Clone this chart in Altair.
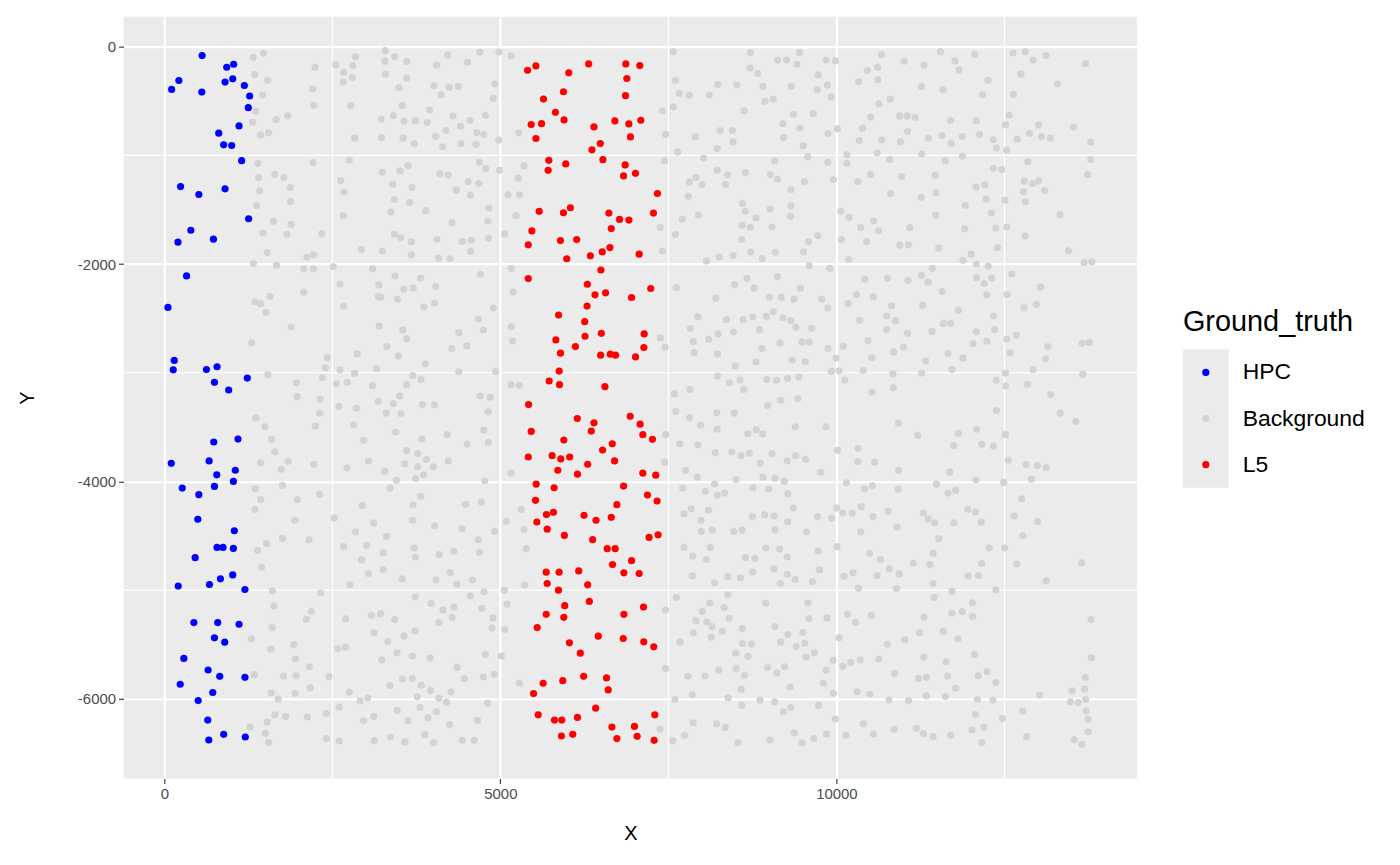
import altair as alt
import pandas as pd

# ---------------- data ----------------
hpc_points = [
    (563,-82),(929,-189),(1032,-162),(217,-311),(109,-393),(558,-418),(904,-326),(1018,-296),
    (1191,-357),(1270,-454),(1250,-561),(1112,-729),(810,-796),(884,-903),(1003,-909),(1151,-1049),
    (242,-1287),(514,-1360),(904,-1308),(1255,-1583),(395,-1689),(731,-1771),(203,-1799),
    (331,-2109),(54,-2399),(148,-2887),(133,-2973),(627,-2970),(785,-2945),(746,-3088),(958,-3159),
    (1235,-3049),(736,-3637),(1097,-3610),(104,-3833),(667,-3811),(781,-3939),(1057,-3897),(1028,-4000),
    (746,-4046),(267,-4061),(514,-4122),(499,-4348),
    (1042,-4454),(785,-4607),(874,-4607),(1028,-4616),(459,-4701),(1018,-4860),(835,-4896),(672,-4948),
    (207,-4963),(1200,-4994),(440,-5299),(795,-5299),(1112,-5314),(746,-5439),(899,-5479),(291,-5628),
    (652,-5735),(825,-5793),(1200,-5802),(237,-5866),(721,-5942),(504,-6016),(647,-6196),(884,-6327),
    (662,-6379),(1205,-6351),
]

l5_points = [
    (5405,-217),(5529,-177),(6018,-241),(6314,-159),(6867,-159),(6882,-293),(6862,-451),(5642,-482),
    (5939,-415),(5820,-604),(5948,-674),(5459,-717),(5613,-708),(5529,-845),(6393,-738),(6704,-683),
    (6912,-711),(6936,-830),(6487,-891),(6363,-949),(6526,-1040),(5721,-1046),(5711,-1138),(5973,-1079),
    (6857,-1088),(6833,-1189),(5578,-1515),(5939,-1528),(6042,-1482),(6615,-1531),(6773,-1589),(6912,-1595),
    (6650,-1674),(5469,-1695),(5415,-1823),(5894,-1784),(6136,-1775),(6630,-1848),(6516,-1888),(6339,-1924),
    (5988,-1951),(6497,-2055),
    (7075,-174),(7090,-677),(7011,-1165),(7337,-1351),(7278,-1531),(7065,-1909),
    (5415,-2134),(6295,-2186),(6408,-2283),(6566,-2265),(6290,-2387),(5866,-2469),(6255,-2530),(6260,-2664),
    (6502,-2637),(5826,-2698),(6117,-2759),(5895,-2820),(6492,-2838),(6635,-2829),(6714,-2838),(5875,-2985),
    (5726,-3076),(5880,-3110),(6556,-3128),(5420,-3293),(6145,-3421),(6393,-3461),(6353,-3537),(6932,-3400),
    (5459,-3540),(5944,-3619),(6665,-3653),(6521,-3711),(5415,-3775),(5770,-3763),(5899,-3793),(6032,-3775),
    (6699,-3811),(6299,-3842),(5855,-3897),(6147,-3933),(5533,-4025),(5800,-4058),(6833,-4043),(5523,-4174),
    (6734,-4214),(5686,-4305),(5790,-4284),(6245,-4312),(6423,-4357),(6650,-4330),(5543,-4373),
    (7238,-2225),(6952,-2308),(7140,-2643),(7135,-2768),(7011,-2854),(7080,-3473),(7120,-3570),(7263,-3613),
    (7120,-3924),(7312,-3942),(7189,-4125),(7332,-4180),
    (5697,-4439),(5953,-4497),(6373,-4536),(6590,-4619),(6709,-4619),(6669,-4765),(6838,-4841),(5682,-4835),
    (5874,-4835),(6166,-4823),(5697,-4939),(5865,-5000),(6299,-4951),(6324,-5104),(5958,-5143),(5682,-5223),
    (5944,-5250),(5548,-5345),(6838,-5223),(6457,-5424),(6828,-5445),(6028,-5485),(6190,-5580),(6239,-5793),
    (6580,-5808),(6605,-5918),(5929,-5833),(5637,-5857),(5494,-5952),(6418,-6086),(5563,-6147),(5805,-6196),
    (5914,-6196),(6147,-6171),(6660,-6260),(6734,-6366),(5909,-6342),(6077,-6327),
    (7213,-4515),(7347,-4491),(6952,-4729),(7065,-4847),(7130,-5156),(7134,-5476),(7283,-5522),(7298,-6147),
    (6995,-6254),(7035,-6345),(7288,-6382),
]

bg_points_top = [
    (1324,-98),(1477,-61),(2243,-189),(2549,-168),(2845,-92),(2806,-174),(2668,-235),(2796,-284),(2663,-326),
    (1344,-256),(1536,-311),(2208,-390),(1462,-445),(2223,-540),(2776,-543),(1359,-592),(1838,-634),(1665,-671),
    (1314,-695),(1551,-793),(1433,-814),(2831,-842),(1393,-1073),(2213,-1067),(2752,-1043),(1645,-1177),
    (1778,-1204),(1403,-1204),(2623,-1232),(2673,-1339),(1418,-1326),(1872,-1296),(1877,-1424),(1373,-1461),
    (2663,-1555),(1625,-1607),(1887,-1635),(1467,-1714),(1823,-1726),(2342,-1723),(2929,-1866),(1531,-1894),
    (2124,-1937),(2223,-1915),(1324,-1995),(1670,-2010),(2075,-2043),(2218,-2043),(2514,-2025),(3100,-2043),
    (3286,-37),(3281,-131),(3429,-92),(3607,-137),(3291,-253),(3607,-290),(3488,-378),(4052,-168),(4215,-76),
    (4511,-143),(4694,-52),(4980,-49),(5158,-85),(4012,-360),(4239,-375),(4373,-366),(4116,-442),(4921,-342),
    (4896,-476),(3538,-543),(3948,-583),(3227,-668),(3409,-634),(3567,-686),(3735,-683),(3913,-698),(4294,-637),
    (4550,-677),(4778,-631),(4407,-732),(4190,-772),(3232,-839),(3553,-842),(3721,-894),(4037,-827),(4141,-921),
    (4412,-891),(4639,-900),(4649,-790),(4753,-809),(4975,-860),(5277,-793),
    (3241,-1156),(3508,-1143),(3627,-1095),(4689,-1064),(4783,-1122),(4985,-1137),(5351,-1095),(4101,-1168),
    (4225,-1180),(3399,-1265),(3686,-1296),(4521,-1241),(4679,-1259),(4343,-1320),(4555,-1366),(5267,-1210),
    (3424,-1406),(3651,-1433),(5114,-1363),(5287,-1363),(3375,-1522),(3893,-1509),(4832,-1485),(4813,-1604),
    (4279,-1619),(5232,-1555),(3424,-1726),(3518,-1759),(3676,-1796),(4056,-1772),(4432,-1793),(4565,-1781),
    (4822,-1763),(5064,-1723),(3246,-1881),(3676,-1915),(4081,-1945),(4249,-1951),(4560,-1884),(5163,-2040),
    (7574,-46),(7604,-311),(7663,-430),(7811,-448),(7411,-592),(7574,-555),(7460,-805),(7638,-970),(7900,-830),
    (8108,-445),(8236,-348),(8518,-351),(8720,-55),(8715,-198),(8829,-247),(8908,-366),(8938,-503),(9061,-482),
    (9125,-125),(9259,-122),(9451,-55),(9412,-162),(9328,-366),(9728,-259),(9846,-125),(9985,-131),(9713,-396),
    (9866,-354),(9921,-464),(9654,-616),(9362,-622),(9204,-708),(9456,-750),(9219,-836),(9506,-912),(9575,-1013),
    (9876,-799),(10015,-756),(8626,-589),(8270,-772),(8453,-772),(8463,-875),(8226,-937),(8024,-1025),(7441,-1049),
    (10331,-323),(10459,-220),(10612,-189),(10617,-305),(10671,-76),(10632,-527),(10508,-647),(10390,-750),
    (10341,-863),(10676,-857),(10607,-976),(10158,-994),(10158,-1073),(9871,-1064),(9955,-1223),(10321,-1241),
    (10509,-1177),(9081,-1052),(9017,-1177),(9125,-1220),(8646,-1159),(8226,-1137),(8379,-1180),(8350,-1269),
    (7910,-1204),(7811,-1244),(8000,-1269),(7796,-1379),(9323,-1317),(9525,-1241),(9323,-1464),(9318,-1561),
    (9012,-1494),(8804,-1576),(8602,-1442),(8641,-1515),(8597,-1643),(8720,-1662),(9041,-1659),(7945,-1549),
    (7707,-1586),(7377,-1665),(7604,-1729),(7411,-1881),(8068,-1973),(8256,-1936),(8463,-1921),(8592,-1775),
    (8725,-1888),(8898,-1949),(9091,-1894),(9511,-1888),(9585,-1793),(9723,-1738),(9595,-2015),(9901,-2040),
    (10064,-1515),(10188,-1570),(10074,-1775),(10183,-1958),(10360,-1665),(10449,-1793),(10553,-1604),(10627,-1696),
    (11008,-134),(11305,-171),(11547,-46),(11764,-131),(11823,-214),(12060,-70),(12628,-58),(12811,-46),
    (12925,-125),(13118,-82),(13705,-156),(12747,-253),(13290,-342),(12633,-439),(12258,-308),(12174,-442),
    (11265,-366),(11586,-396),(10801,-482),(10939,-637),(11053,-637),(11171,-650),(11700,-677),(12080,-683),
    (12569,-631),(12515,-720),(13009,-720),(13528,-741),(11058,-781),(10954,-875),(11369,-842),(11572,-818),
    (11710,-891),(11873,-827),(12130,-809),(12332,-854),(12381,-933),(12535,-952),(12688,-851),(12871,-799),
    (13052,-827),(13182,-842),(13784,-878),(11270,-988),(10791,-1037),(11873,-1009),(11621,-1049),(12846,-1058),
    (13784,-1037),(13740,-1177),(10969,-1195),(11468,-1183),(12337,-1119),(12460,-1131),(12796,-1235),
    (12921,-1259),(13009,-1235),(13098,-1323),(12787,-1335),(12812,-1427),(12510,-1412),(12228,-1403),
    (12080,-1293),(12209,-1272),(11917,-1461),(10805,-1351),(11260,-1387),(11482,-1345),(11477,-1549),
    (12307,-1528),(13325,-1546),(11092,-1665),(11907,-1677),(12372,-1671),(12535,-1659),(12806,-1741),
    (10944,-1826),(11073,-1823),(11522,-1854),(12396,-1851),(13453,-1878),(12006,-1909),(11883,-1966),
    (12080,-2000),(12258,-2018),(11428,-2040),(13686,-1985),(13799,-1982),
]

bg_points_mid = [
    (2613,-2186),(2075,-2262),(1576,-2298),(1349,-2347),(1433,-2365),(1512,-2445),(2668,-2387),(1887,-2579),
    (1299,-2726),(2425,-2860),(2870,-2827),(2396,-2954),(2613,-2973),(2830,-3006),(1541,-3018),(1966,-3092),
    (2351,-3046),(2559,-3101),(2722,-3088),(3097,-3119),(1976,-3220),(2317,-3241),(2312,-3372),(2598,-3311),
    (2860,-3326),(1363,-3415),(1497,-3497),(2248,-3491),(2816,-3479),(1596,-3613),(1645,-3726),(2964,-3622),
    (1433,-3830),(1843,-3814),(1739,-3888),(2223,-3842),(2717,-3875),(3038,-3811),(1354,-4068),(1759,-4037),
    (1433,-4168),(1349,-4257),(1981,-4168),(2312,-4119),(2944,-4223),(1941,-4357),(2529,-4336),(3112,-4382),
    (3192,-2192),(3182,-2299),(3434,-2109),(3814,-2128),(3562,-2232),(3705,-2220),(4037,-2207),(3221,-2305),
    (3468,-2323),(3863,-2396),(4022,-2359),(4704,-2094),(4896,-2405),(4674,-2506),(4748,-2607),(3197,-2570),
    (3548,-2607),(3607,-2689),(3311,-2759),(3483,-2845),(3884,-2918),(4383,-2631),(4279,-2777),(4501,-2753),
    (3158,-2963),(3696,-3027),(3819,-3061),(3607,-3110),(4383,-2991),(4931,-2988),(5163,-2576),(5183,-2707),
    (5188,-2256),(3182,-3262),(3502,-3213),(3409,-3284),(3301,-3372),(3523,-3378),(3839,-3293),(4022,-3296),
    (4699,-3213),(4852,-3226),(4818,-3357),(3439,-3546),(3834,-3610),(4210,-3570),(4506,-3659),(4753,-3528),
    (4822,-3641),(3607,-3717),(3770,-3744),(3898,-3799),(3577,-3839),(3770,-3866),(4002,-3866),(4225,-3811),
    (3858,-3939),(3740,-3973),(3281,-3906),(3454,-3988),(4768,-3994),(3360,-4061),(3814,-4137),(3700,-4216),
    (4481,-4210),(4718,-4189),(3696,-4357),(5158,-3110),(5282,-3116),(5158,-3924),(5311,-4259),(5089,-4366),
    (7619,-2216),(7381,-2680),(7451,-2765),(7826,-2594),(7940,-2485),(8206,-2314),(8488,-2189),(8671,-2131),
    (8775,-2222),(9120,-2116),(9002,-2305),(9180,-2305),(9368,-2323),(9466,-2222),(9782,-2323),(9871,-2405),
    (10173,-2363),(10297,-2281),(10425,-2140),(10549,-2302),(10346,-2518),(10469,-2704),(10528,-2863),
    (10099,-2756),(9876,-2777),(9995,-2866),(9925,-2988),(10039,-2982),(10124,-3070),(10400,-2979),(10528,-3180),
    (8364,-2512),(8612,-2512),(8755,-2485),(8958,-2482),(9061,-2439),(9205,-2494),(9318,-2521),(9397,-2582),
    (9629,-2591),(8859,-2604),(8468,-2625),(8241,-2643),(8098,-2692),(7871,-2713),(7885,-2817),(8231,-2829),
    (8893,-2777),(9160,-2728),(9486,-2716),(9595,-2716),(9343,-2884),(9536,-2899),(8804,-2902),(8493,-2939),
    (8231,-3030),(8409,-3092),(8567,-3067),(8622,-3153),(8967,-3061),(9110,-3070),(9273,-3052),(9441,-3040),
    (9427,-3238),(9170,-3253),(8977,-3302),(7821,-3153),(7589,-3195),(7609,-3357),(7816,-3415),(7979,-3482),
    (8221,-3369),(8478,-3372),(8226,-3519),(7460,-3570),(7668,-3653),(7940,-3665),(8197,-3735),(8444,-3729),
    (8577,-3763),(8706,-3741),(8681,-3561),(8809,-3525),(8903,-3564),(9041,-3744),(8868,-3830),(9269,-3811),
    (9392,-3763),(9540,-3796),(9387,-3497),(9846,-3497),(10019,-3714),(10321,-3695),(10321,-3817),(10568,-3823),
    (9767,-3915),(10148,-4013),(10420,-4068),(10533,-4040),(7446,-3823),(7757,-3897),(7930,-3961),(8508,-3982),
    (8908,-3961),(9086,-3970),(9224,-4000),(8760,-4058),(8992,-4070),(9278,-4113),(7713,-4061),(8049,-4091),
    (8187,-4024),(8226,-4128),(8335,-4107),(7841,-4251),(7732,-4299),(7984,-4357),(8098,-4265),(8750,-4323),
    (8933,-4308),(9071,-4317),(9358,-4244),(9274,-4372),(9718,-4323),(9930,-4339),(10005,-4244),(10098,-4290),
    (10237,-4293),(10370,-4232),(10543,-4323),
    (10761,-2131),(11063,-2152),(11265,-2103),(11364,-2167),(12085,-2125),(12199,-2180),(12313,-2131),
    (12609,-2091),(11572,-2253),(12238,-2283),(12540,-2280),(13038,-2210),(10821,-2384),(11285,-2378),
    (11813,-2424),(12791,-2399),(12974,-2372),(10749,-2478),(10880,-2521),(12337,-2478),(10751,-2603),
    (11058,-2637),(11423,-2622),(11591,-2546),(11700,-2546),(12080,-2622),(12352,-2603),(12238,-2710),
    (12031,-2732),(12535,-2692),(12678,-2655),(10851,-2808),(10999,-2765),(11329,-2893),(11661,-2823),
    (11883,-2866),(12584,-2817),(13147,-2759),(13113,-2872),(13656,-2729),(13764,-2722),(10840,-3009),
    (11270,-3003),(11720,-2970),(12515,-3003),(12925,-2970),(13666,-3015),(12377,-3070),(12520,-3122),
    (12841,-3107),(10845,-3137),(13187,-3201),(13330,-3372),(13562,-3448),(12381,-3348),(10924,-3464),
    (11211,-3576),(11814,-3558),(12085,-3521),(11745,-3671),(12164,-3659),(12337,-3674),(12515,-3570),
    (12555,-3808),(12821,-3845),(12989,-3854),(13123,-3872),(12901,-3979),(12490,-4009),(12075,-3985),
    (11686,-3915),(11488,-4024),(10924,-3897),(10919,-4071),(11661,-4107),(11774,-4083),(12757,-4159),
    (10771,-4275),(11295,-4290),(11364,-4345),(11463,-4381),(11957,-4256),(12070,-4281),(11749,-4381),
    (12154,-4375),(12643,-4317),(12994,-4369),
]

bg_points_bottom = [
    (1388,-4634),(1522,-4573),(1759,-4524),(2154,-4536),(1447,-4790),(2845,-4463),(2668,-4600),(3013,-4588),
    (2934,-4722),(3038,-4847),(2761,-4951),(1610,-5006),(2327,-5024),(1630,-5146),(2188,-5195),(2114,-5268),
    (1605,-5342),(1294,-5448),(1586,-5543),(1927,-5500),(1951,-5634),(2159,-5705),(2697,-5265),(3082,-5232),
    (3122,-5393),(2584,-5540),(2697,-5525),(1339,-5778),(1774,-5793),(1961,-5784),(2450,-5796),(2174,-5900),
    (1590,-5946),(1946,-5949),(1694,-6003),(2752,-5939),(2915,-6019),(3028,-5991),(2603,-6077),(1645,-6147),
    (1803,-6162),(2129,-6168),(2411,-6135),(2964,-6202),(3117,-6162),(1274,-6260),(1531,-6214),(1502,-6318),
    (1551,-6403),(2411,-6366),(2603,-6388),(3122,-6385),
    (4022,-4408),(4432,-4436),(4916,-4460),(5351,-4442),(3306,-4506),(4669,-4536),(3256,-4658),(3716,-4612),
    (3735,-4695),(4091,-4674),(4308,-4643),(4689,-4652),(5385,-4619),(3256,-4811),(3538,-4896),(4042,-4905),
    (4254,-4838),(4353,-4945),(4585,-4905),(5361,-4951),(5059,-5000),(3735,-5061),(3972,-5122),(4145,-5183),
    (4308,-5155),(4551,-5052),(4758,-5015),(4723,-5168),(5099,-5131),(3217,-5217),(3429,-5271),(4284,-5253),
    (4086,-5299),(4891,-5256),(4876,-5348),(5064,-5363),(3730,-5375),(3567,-5421),(3325,-5473),(3464,-5576),
    (3236,-5641),(3691,-5607),(3958,-5625),(4353,-5711),(4778,-5592),(5015,-5607),(4911,-5775),(4748,-5799),
    (4462,-5814),(4264,-5936),(4200,-6031),(4086,-5994),(3963,-5924),(3824,-5875),(3691,-5814),(3543,-5817),
    (3355,-5878),(3765,-5982),(3804,-6080),(4047,-6119),(3923,-6174),(3464,-6107),(3626,-6201),(4244,-6238),
    (4659,-6199),(4812,-6040),(5287,-5857),(3365,-6351),(3582,-6397),(3878,-6330),(4007,-6403),(4432,-6382),
    (4610,-6382),
    (7989,-4460),(8152,-4448),(8473,-4460),(8597,-4448),(9086,-4445),(9555,-4463),(10360,-4463),(7732,-4607),
    (7861,-4689),(8064,-4719),(8122,-4607),(8646,-4701),(8789,-4710),(8948,-4613),(9155,-4622),(9269,-4695),
    (9728,-4640),(10010,-4600),(10494,-4661),(10657,-4719),(7856,-4869),(8187,-4933),(8385,-4875),(8572,-4887),
    (8755,-4835),(9071,-4805),(9269,-4854),(9165,-4939),(9387,-4902),(9644,-4924),(9748,-4814),(10114,-4872),
    (10248,-4841),(10327,-4982),(10603,-4866),(7619,-5067),(7456,-5183),(8118,-5119),(8385,-5043),(8330,-5159),
    (8004,-5195),(7910,-5281),(8073,-5293),(8147,-5336),(8404,-5259),(7870,-5393),(8305,-5378),(8137,-5433),
    (7673,-5476),(8597,-5354),(8602,-5491),(8735,-5497),(8503,-5580),(8686,-5610),(8948,-5119),(9086,-5336),
    (9278,-5409),(9170,-5479),(9402,-5519),(9500,-5390),(9530,-5488),(9575,-5119),(9590,-5262),(9861,-5256),
    (9674,-5576),(9550,-5616),(9950,-5647),(9846,-5735),(10039,-5439),(10168,-5223),(10287,-5296),(10519,-5232),
    (10094,-5701),(10213,-5665),(10356,-5641),(10632,-5634),(7456,-5720),(7791,-5793),(8044,-5790),(8251,-5735),
    (8508,-5723),(8631,-5784),(8977,-5711),(9115,-5763),(9229,-5705),(8582,-5912),(9313,-5891),(9807,-5857),
    (9955,-5949),(10306,-5933),(10499,-5958),(7599,-6006),(7856,-5964),(8389,-5991),(8592,-6061),(8864,-6013),
    (9081,-6028),(9209,-6119),(9323,-6080),(9733,-6061),(9985,-6186),(10400,-6229),(7377,-6281),(7564,-6385),
    (7742,-6336),(7870,-6220),(8216,-6229),(8345,-6263),(8533,-6403),(9012,-6379),(9372,-6312),(9486,-6406),
    (9664,-6366),(9851,-6324),(10143,-6336),(10553,-6324),
    (10904,-4420),(11522,-4527),(12273,-4610),(12505,-4610),(12772,-4500),(11438,-4661),(10788,-4805),
    (11142,-4753),(11393,-4765),(10934,-4851),(12159,-4756),(12683,-4759),(13651,-4750),(11957,-4869),
    (12115,-4866),(13122,-4915),(10895,-4985),(11438,-4939),(11720,-5012),(12372,-4997),(11453,-5067),
    (12026,-5116),(11873,-5198),(11720,-5213),(12026,-5244),(11305,-5247),(13789,-5271),(11235,-5393),
    (11591,-5378),(11809,-5448),(11018,-5458),(10756,-5500),(11300,-5616),(11631,-5659),(12055,-5592),
    (13794,-5622),(10865,-5766),(11221,-5812),(11339,-5802),(11655,-5793),(12110,-5787),(12243,-5750),
    (12372,-5851),(11774,-5903),(13705,-5805),(13508,-5927),(13691,-5909),(10781,-6010),(11072,-6016),
    (11339,-5973),(11621,-5979),(12100,-6006),(12327,-6013),(13024,-5967),(13483,-6028),(13597,-6034),
    (13710,-6006),(13715,-6113),(13745,-6189),(13745,-6302),(13537,-6376),(13651,-6418),(12070,-6144),
    (12470,-6180),(12772,-6113),(12194,-6260),(12016,-6287),(12164,-6403),(12831,-6348),(10860,-6281),
    (11191,-6272),(11295,-6321),(11438,-6348),(11700,-6336),
]

legend_labels = ["HPC", "Background", "L5"]
legend_colors = ["#0000FF", "#D3D3D3", "#FF0000"]

x_ticks = [0, 5000, 10000]
y_ticks = [0, -2000, -4000, -6000]
x_minor = [2500, 7500, 12500]
y_minor = [-1000, -3000, -5000]
x_domain = [-607, 14474]
y_domain = [-6733, 275]

# ---------------- build table ----------------
rows = []
for x, y in bg_points_top + bg_points_mid + bg_points_bottom:
    rows.append({"X": x, "Y": y, "Ground_truth": "Background"})
for x, y in hpc_points:
    rows.append({"X": x, "Y": y, "Ground_truth": "HPC"})
for x, y in l5_points:
    rows.append({"X": x, "Y": y, "Ground_truth": "L5"})
df = pd.DataFrame(rows)

FONT = "Liberation Sans"
xscale = alt.Scale(domain=x_domain, nice=False, zero=False)
yscale = alt.Scale(domain=y_domain, nice=False, zero=False)
xaxis = alt.Axis(values=x_ticks, title="X", labelExpr="'' + datum.value", titlePadding=22)
yaxis = alt.Axis(values=y_ticks, title="Y", labelExpr="'' + datum.value", titlePadding=40)
color_scale = alt.Scale(domain=legend_labels, range=legend_colors)

vminor = alt.Chart(pd.DataFrame({"X": x_minor})).mark_rule(color="white", strokeWidth=1.1).encode(
    x=alt.X("X:Q", scale=xscale, axis=xaxis)
)
hminor = alt.Chart(pd.DataFrame({"Y": y_minor})).mark_rule(color="white", strokeWidth=1.1).encode(
    y=alt.Y("Y:Q", scale=yscale, axis=yaxis)
)
points = alt.Chart(df).mark_circle(size=52, opacity=1).encode(
    x=alt.X("X:Q", scale=xscale, axis=xaxis),
    y=alt.Y("Y:Q", scale=yscale, axis=yaxis),
    color=alt.Color("Ground_truth:N", scale=color_scale, legend=None),
)
main = alt.layer(vminor, hminor, points)

# ---------------- legend drawn beside the panel ----------------
leg_df = pd.DataFrame({"Ground_truth": legend_labels})
leg_y = alt.Y("Ground_truth:N", sort=legend_labels,
              scale=alt.Scale(domain=legend_labels, range=[334, 473], paddingInner=0, paddingOuter=0),
              axis=None)
leg_rect = alt.Chart(leg_df).mark_rect(color="#EBEBEB").encode(
    x=alt.value(1064), x2=alt.value(1110), y=leg_y
)
leg_pts = alt.Chart(leg_df).mark_circle(size=52, opacity=1).encode(
    x=alt.value(1087), y=leg_y,
    color=alt.Color("Ground_truth:N", scale=color_scale, legend=None),
)
leg_txt = alt.Chart(leg_df).mark_text(align="left", baseline="middle", font=FONT, fontSize=23, color="black").encode(
    x=alt.value(1124), y=leg_y, text="Ground_truth:N"
)
legend = alt.layer(leg_rect, leg_pts, leg_txt)
leg_title = alt.Chart(pd.DataFrame({"t": ["Ground_truth"]})).mark_text(
    align="left", baseline="middle", font=FONT, fontSize=29, color="black"
).encode(x=alt.value(1064), y=alt.value(307), text="t:N")

chart = alt.layer(main, legend, leg_title).resolve_scale(y="independent").properties(
    width=1018, height=765,
    autosize=alt.AutoSizeParams(type="none"),
    padding={"left": 116, "top": 7, "right": 256, "bottom": 70},
    background="white",
).configure_view(
    fill="#EBEBEB", strokeWidth=0
).configure_axis(
    domain=False,
    grid=True, gridColor="white", gridWidth=2.2,
    tickColor="#333333", tickSize=5, tickWidth=1.1,
    labelFont=FONT, labelFontSize=15, labelColor="#4D4D4D", labelPadding=3,
    titleFont=FONT, titleFontSize=20, titleColor="black", titleFontWeight="normal",
)

chart.save("out.html", embed_options={"renderer": "svg", "actions": False})
